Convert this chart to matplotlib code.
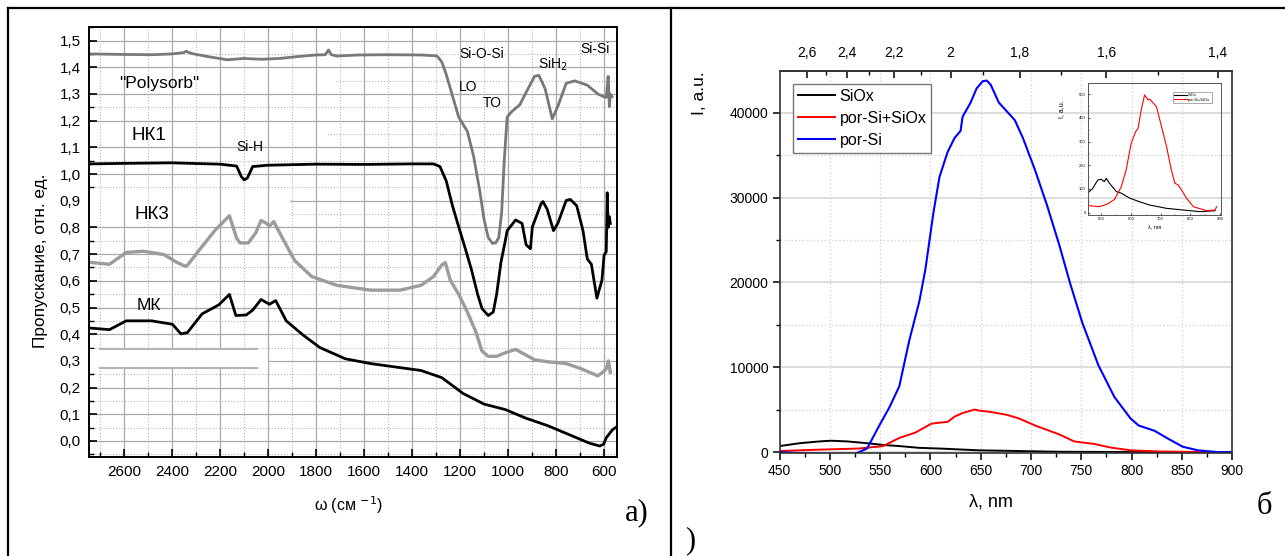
import numpy as np
import matplotlib
matplotlib.use("Agg")
import matplotlib.pyplot as plt
from matplotlib.lines import Line2D
from matplotlib.patches import Rectangle
from matplotlib.ticker import MultipleLocator, FuncFormatter, FixedLocator

plt.rcParams['font.family'] = ['Liberation Sans', 'DejaVu Sans']

# ---------------- panel a): IR transmission spectra ----------------
wn_poly = [2740, 2600, 2480, 2400, 2350, 2340, 2320, 2250, 2168, 2100, 2028, 1950, 1888, 1800, 1760,
           1747, 1735, 1712, 1625, 1500, 1361, 1300, 1291, 1274, 1256, 1230, 1204, 1168, 1142, 1116,
           1098, 1081, 1063, 1050, 1037, 1025, 1014, 1002, 984, 949, 923, 888, 870, 844, 814, 791,
           756, 721, 668, 624, 600, 589, 581, 576, 572, 565]
tr_poly = [1.450, 1.448, 1.447, 1.450, 1.455, 1.460, 1.452, 1.440, 1.428, 1.433, 1.430, 1.433, 1.439,
           1.446, 1.447, 1.465, 1.447, 1.442, 1.446, 1.447, 1.446, 1.443, 1.439, 1.419, 1.373, 1.293,
           1.213, 1.160, 1.067, 0.935, 0.828, 0.762, 0.740, 0.742, 0.762, 0.855, 1.054, 1.213, 1.233,
           1.260, 1.306, 1.366, 1.370, 1.320, 1.207, 1.253, 1.340, 1.349, 1.333, 1.300, 1.290, 1.287,
           1.366, 1.253, 1.300, 1.290]

wn_nk1 = [2740, 2600, 2400, 2200, 2130, 2110, 2098, 2085, 2063, 2000, 1800, 1600, 1400, 1309, 1282,
          1256, 1230, 1204, 1177, 1151, 1125, 1107, 1081, 1060, 1046, 1028, 1010, 1002, 984, 967,
          940, 923, 905, 897, 861, 853, 835, 809, 791, 756, 739, 712, 686, 668, 651, 628, 607, 598,
          589, 585, 581, 576, 572]
tr_nk1 = [1.038, 1.040, 1.042, 1.037, 1.030, 0.990, 0.978, 0.985, 1.028, 1.033, 1.037, 1.036, 1.038,
          1.038, 1.028, 0.974, 0.881, 0.802, 0.722, 0.642, 0.549, 0.496, 0.470, 0.483, 0.549, 0.669,
          0.749, 0.788, 0.808, 0.828, 0.815, 0.735, 0.720, 0.802, 0.888, 0.897, 0.868, 0.788, 0.815,
          0.901, 0.905, 0.881, 0.788, 0.682, 0.662, 0.535, 0.602, 0.696, 0.709, 0.930, 0.800, 0.840,
          0.815]

wn_nk3 = [2740, 2660, 2590, 2519, 2432, 2379, 2345, 2335, 2291, 2221, 2160, 2130, 2116, 2081, 2050,
          2028, 2005, 1993, 1975, 1940, 1888, 1817, 1712, 1572, 1449, 1361, 1309, 1274, 1260, 1239,
          1204, 1168, 1133, 1107, 1081, 1046, 1011, 967, 940, 888, 835, 756, 695, 624, 600, 589,
          580, 572]
tr_nk3 = [0.669, 0.662, 0.706, 0.711, 0.698, 0.669, 0.655, 0.658, 0.709, 0.788, 0.844, 0.760, 0.742,
          0.742, 0.780, 0.826, 0.815, 0.805, 0.822, 0.762, 0.676, 0.616, 0.583, 0.565, 0.565, 0.583,
          0.616, 0.660, 0.668, 0.602, 0.549, 0.483, 0.410, 0.337, 0.317, 0.317, 0.330, 0.343, 0.330,
          0.304, 0.297, 0.290, 0.271, 0.244, 0.260, 0.271, 0.300, 0.257]

wn_mk = [2740, 2660, 2590, 2484, 2397, 2362, 2335, 2274, 2204, 2160, 2133, 2090, 2063, 2028, 1993,
         1967, 1923, 1853, 1783, 1677, 1572, 1467, 1361, 1274, 1186, 1098, 1011, 923, 835, 747, 660,
         616, 600, 589, 563, 550]
tr_mk = [0.423, 0.417, 0.450, 0.450, 0.437, 0.401, 0.406, 0.476, 0.510, 0.549, 0.470, 0.472, 0.490,
         0.530, 0.512, 0.526, 0.450, 0.397, 0.350, 0.308, 0.290, 0.277, 0.264, 0.237, 0.178, 0.138,
         0.118, 0.085, 0.058, 0.025, -0.008, -0.019, -0.012, 0.012, 0.042, 0.050]

# ---------------- panel б): PL spectra ----------------
lam_siox = [450, 470, 490, 501, 517, 537, 553, 569, 589, 609, 648, 688, 728, 807, 900]
pl_siox = [710, 1050, 1260, 1340, 1260, 1050, 840, 710, 500, 420, 210, 125, 40, 0, 0]

lam_mix = [450, 490, 529, 553, 569, 585, 601, 609, 617, 624, 632, 644, 648, 660, 676, 688, 704, 728,
           743, 751, 763, 779, 799, 827, 860, 900]
pl_mix = [125, 290, 420, 710, 1670, 2300, 3350, 3470, 3560, 4180, 4600, 5020, 4900, 4730, 4390, 3970,
          3140, 2090, 1260, 1130, 960, 540, 210, 80, 20, 0]

lam_por = [450, 465, 500, 525, 537, 549, 559, 569, 579, 589, 595, 603, 609, 617, 624, 630, 632, 640,
           646, 652, 656, 660, 668, 676, 684, 692, 704, 716, 728, 739, 751, 767, 783, 799, 807, 823,
           835, 851, 866, 886, 900]
pl_por = [0, -100, -200, -200, 418, 3100, 5230, 7740, 13180, 17780, 21550, 28240, 32430, 35350, 37030,
          37870, 39540, 41210, 42890, 43720, 43800, 43300, 41210, 40170, 39120, 37030, 33260, 29080,
          24480, 19870, 15270, 10250, 6490, 3970, 3140, 2510, 1670, 630, 210, 0, 0]

# inset
lam_in_siox = [455, 472, 489, 500, 511, 517, 528, 551, 568, 596, 629, 663, 720, 776, 832, 883]
pl_in_siox = [82, 103, 138, 141, 131, 145, 124, 89, 82, 61, 46, 32, 18, 11, 4, 8]
lam_in_mix = [455, 494, 523, 545, 568, 584, 601, 616, 624, 635, 646, 658, 663, 686, 703, 720, 736,
              748, 759, 770, 787, 810, 855, 883, 888]
pl_in_mix = [30, 25, 37, 56, 110, 180, 293, 342, 356, 434, 497, 476, 479, 448, 363, 279, 180, 124, 117,
             96, 61, 25, 8, 11, 25]

top_ev = [2.6, 2.4, 2.2, 2.0, 1.8, 1.6, 1.4]
top_ev_minor = [2.5, 2.3, 2.1, 1.9, 1.7, 1.5]

fig = plt.figure(figsize=(12.85, 5.56), dpi=100)

# page table borders
for xs, ys in [([0.0062, 1.0], [0.9856, 0.9856]), ([0.0062, 0.0062], [0.0, 0.9856]),
               ([0.5222, 0.5222], [0.0, 0.9856])]:
    fig.add_artist(Line2D(xs, ys, transform=fig.transFigure, color='black', lw=1.6))

comma = FuncFormatter(lambda v, p: ('%.1f' % v).replace('.', ','))

# ---------------- left panel ----------------
ax = fig.add_axes([0.0693, 0.1781, 0.4107, 0.7734])
ax.set_xlim(2745, 545)
ax.set_ylim(-0.06, 1.551)
ax.xaxis.set_major_locator(MultipleLocator(200))
ax.xaxis.set_minor_locator(MultipleLocator(100))
ax.yaxis.set_major_locator(MultipleLocator(0.1))
ax.yaxis.set_minor_locator(MultipleLocator(0.05))
ax.yaxis.set_major_formatter(comma)
ax.grid(which='major', color='#a8a8a8', lw=0.9, ls='-')
ax.grid(which='minor', color='#b8b8b8', lw=0.8, ls=':')
ax.set_axisbelow(True)
ax.xaxis.set_zorder(1.5)
ax.yaxis.set_zorder(0.5)
ax.tick_params(which='both', direction='in', top=False, right=False, labelsize=11, pad=6)
ax.tick_params(which='major', length=6, width=1.2)
ax.tick_params(which='minor', length=3.5, width=1.0)
for s in ax.spines.values():
    s.set_linewidth(1.4)

# white label backgrounds (hide horizontal grid lines)
for x0, x1, y0, y1 in [(2745, 1720, 1.31, 1.385), (2745, 1748, 1.12, 1.185), (2745, 1907, 0.83, 0.905)]:
    ax.add_patch(Rectangle((x1, y0), x0 - x1, y1 - y0, facecolor='white', edgecolor='none', zorder=1))
ax.add_patch(Rectangle((2000, 0.272), 745, 0.073, facecolor='white', edgecolor='none', zorder=1.6))
ax.plot([2699, 2046], [0.345, 0.345], color='#b4b4b4', lw=1.5, zorder=1.7)
ax.plot([2699, 2046], [0.273, 0.273], color='#b4b4b4', lw=1.5, zorder=1.7)

ax.plot(wn_poly, tr_poly, color='#787878', lw=2.0, zorder=2)
ax.plot(wn_nk1, tr_nk1, color='black', lw=2.0, zorder=2)
ax.plot(wn_nk3, tr_nk3, color='#9c9c9c', lw=2.4, zorder=2)
ax.plot(wn_mk, tr_mk, color='black', lw=2.0, zorder=2)

ax.text(2453, 1.338, '"Polysorb"', fontsize=12.5, ha='center', va='center')
ax.text(2495, 1.146, 'НК1', fontsize=13.5, ha='center', va='center')
ax.text(2074, 1.101, 'Si-H', fontsize=10, ha='center', va='center')
ax.text(2484, 0.848, 'НК3', fontsize=13.5, ha='center', va='center')
ax.text(2495, 0.509, 'МК', fontsize=12.5, ha='center', va='center')
ax.text(1107, 1.449, 'Si-O-Si', fontsize=10, ha='center', va='center')
ax.text(1165, 1.326, 'LO', fontsize=10, ha='center', va='center')
ax.text(1065, 1.266, 'TO', fontsize=10, ha='center', va='center')
ax.text(811, 1.41, 'SiH$_2$', fontsize=10, ha='center', va='center')
ax.text(637, 1.47, 'Si-Si', fontsize=10, ha='center', va='center')

fig.text(41 / 1285, 1 - 261 / 556, 'Пропускание, отн. ед.', rotation=90, fontsize=12.4,
         ha='center', va='center')
fig.text(349 / 1285, 1 - 505 / 556, 'ω (см $^{-1}$)', fontsize=11.5, ha='center', va='center')
fig.text(637 / 1285, 1 - 513 / 556, 'a)', family='Liberation Serif', fontsize=22,
         ha='center', va='center')

# ---------------- right panel ----------------
bx = fig.add_axes([0.6067, 0.1849, 0.3521, 0.6876])
bx.set_xlim(450, 900)
bx.set_ylim(-130, 44940)
bx.xaxis.set_major_locator(MultipleLocator(50))
bx.xaxis.set_minor_locator(MultipleLocator(25))
bx.yaxis.set_major_locator(MultipleLocator(10000))
bx.yaxis.set_minor_locator(MultipleLocator(5000))
bx.grid(which='major', axis='y', color='#dadada', lw=1.3, ls='-')
bx.grid(which='minor', axis='y', color='#d4d4d4', lw=1.0, ls=':')
bx.grid(which='major', axis='x', color='#d4d4d4', lw=1.0, ls=':')
bx.set_axisbelow(True)
bx.tick_params(which='both', direction='out', top=False, right=False, labelsize=10, pad=3)
bx.tick_params(which='major', length=5, width=1.1)
bx.tick_params(which='minor', length=3, width=1.0)
for s in bx.spines.values():
    s.set_linewidth(1.2)
    s.set_color('#333333')

bx.plot(lam_siox, pl_siox, color='black', lw=1.4, label='SiOx')
bx.plot(lam_mix, pl_mix, color='#ff0000', lw=1.4, label='por-Si+SiOx')
bx.plot(lam_por, pl_por, color='#0000ff', lw=1.5, label='por-Si')

leg = bx.legend(loc='upper left', bbox_to_anchor=(0.03, 0.966), borderaxespad=0, fontsize=11.5,
                handlelength=2.3, handletextpad=0.3, borderpad=0.3, labelspacing=0.45,
                fancybox=False, framealpha=1, edgecolor='#777777')
leg.get_frame().set_linewidth(1.0)

def to_ev(x):
    x = np.asarray(x, dtype=float)
    with np.errstate(divide='ignore'):
        return 1240.0 / x

tx = bx.secondary_xaxis('top', functions=(to_ev, to_ev))
tx.set_xticks(top_ev)
tx.set_xticklabels([('%g' % v).replace('.', ',') for v in top_ev])
tx.xaxis.set_minor_locator(FixedLocator(top_ev_minor))
tx.tick_params(which='both', direction='in', labelsize=10, pad=8)
tx.tick_params(which='major', length=5, width=1.1)
tx.tick_params(which='minor', length=3, width=1.0)
tx.spines['top'].set_linewidth(1.2)
tx.spines['top'].set_color('#333333')

fig.text(700 / 1285, 1 - 71 / 556, 'I, a.u.', rotation=90, fontsize=12.5, ha='center', va='top')
fig.text(991 / 1285, 1 - 502 / 556, 'λ, nm', fontsize=13, ha='center', va='center')
fig.text(1264 / 1285, 1 - 507 / 556, 'б', family='Liberation Serif', fontsize=22,
         ha='center', va='center')
fig.text(690 / 1285, 1 - 541 / 556, ')', family='Liberation Serif', fontsize=22,
         ha='center', va='center')

# inset
ins = fig.add_axes([0.8465, 0.6142, 0.1037, 0.2372], facecolor='none')
ins.set_xlim(455, 903)
ins.set_ylim(-8, 549)
ins.xaxis.set_major_locator(MultipleLocator(100))
ins.yaxis.set_major_locator(MultipleLocator(100))
ins.xaxis.set_minor_locator(MultipleLocator(50))
ins.yaxis.set_minor_locator(MultipleLocator(50))
ins.tick_params(which='both', direction='in', labelsize=3, pad=1.5, top=False, right=False)
ins.tick_params(which='major', length=1.5, width=0.5)
ins.tick_params(which='minor', length=0.8, width=0.4)
for s in ins.spines.values():
    s.set_linewidth(0.7)
    s.set_color('#555555')
ins.plot(lam_in_siox, pl_in_siox, color='black', lw=0.8, label='SiOx')
ins.plot(lam_in_mix, pl_in_mix, color='#ff0000', lw=0.8, label='por-Si+SiOx')
ileg = ins.legend(loc='upper right', bbox_to_anchor=(0.93, 0.93), fontsize=3, handlelength=3,
                  handletextpad=0.3, borderpad=0.3, labelspacing=0.2, fancybox=False,
                  framealpha=1, edgecolor='#888888', borderaxespad=0)
ileg.get_frame().set_linewidth(0.5)
ins.set_ylabel('I, a.u.', fontsize=5, labelpad=2)
ins.yaxis.set_label_coords(-0.17, 0.8)
ins.set_xlabel('λ, nm', fontsize=4, labelpad=3)

fig.savefig('out.png', dpi=100)
